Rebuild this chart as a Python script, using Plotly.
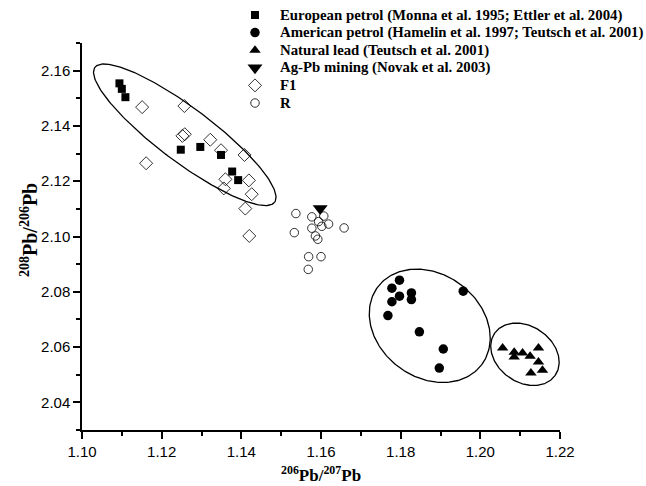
import numpy as np
import plotly.graph_objects as go

# ---- data ----
eu_x = [1.1094, 1.1100, 1.1109, 1.1248, 1.1297, 1.1349, 1.1377, 1.1392]
eu_y = [2.1554, 2.1534, 2.1504, 2.1314, 2.1324, 2.1295, 2.1235, 2.1204]

am_x = [1.1797, 1.1778, 1.1827, 1.1797, 1.1827, 1.1778, 1.1957, 1.1768, 1.1847, 1.1907, 1.1897]
am_y = [2.0842, 2.0813, 2.0796, 2.0784, 2.0772, 2.0764, 2.0802, 2.0714, 2.0655, 2.0593, 2.0524]

nat_x = [1.2056, 1.2085, 1.2106, 1.2146, 1.2085, 1.2125, 1.2146, 1.2127, 1.2156]
nat_y = [2.0597, 2.0581, 2.0579, 2.0597, 2.0564, 2.0567, 2.0546, 2.0506, 2.0516]

ag_x = [1.1598]
ag_y = [2.1101]

f1_x = [1.1151, 1.1257, 1.1161, 1.1252, 1.1258, 1.1322, 1.1349, 1.1408, 1.1360, 1.1356, 1.1419, 1.1426, 1.1410, 1.1420]
f1_y = [2.1468, 2.1472, 2.1265, 2.1364, 2.1370, 2.1350, 2.1312, 2.1295, 2.1207, 2.1174, 2.1203, 2.1153, 2.1101, 2.1002]

r_x = [1.1537, 1.1577, 1.1607, 1.1594, 1.1619, 1.1602, 1.1577, 1.1658, 1.1533, 1.1586, 1.1592, 1.1569, 1.1600, 1.1568]
r_y = [2.1083, 2.1071, 2.1074, 2.1054, 2.1045, 2.1037, 2.1030, 2.1031, 2.1014, 2.1002, 2.0990, 2.0927, 2.0927, 2.0881]

labels = [
    "European petrol (Monna et al. 1995; Ettler et al. 2004)",
    "American petrol (Hamelin et al. 1997; Teutsch et al. 2001)",
    "Natural lead (Teutsch et al. 2001)",
    "Ag-Pb mining (Novak et al. 2003)",
    "F1",
    "R",
]

x_ticks = [1.10, 1.12, 1.14, 1.16, 1.18, 1.20, 1.22]
y_ticks = [2.04, 2.06, 2.08, 2.10, 2.12, 2.14, 2.16]

x_title = "<b><sup>206</sup>Pb/<sup>207</sup>Pb</b>"
y_title = "<b><sup>208</sup>Pb/<sup>206</sup>Pb</b>"

# ---- layout geometry (pixels) ----
W, H = 646, 486
PL, PR, PT, PB = 82, 560, 43, 430        # plot-area edges
PW, PH = PR - PL, PB - PT
XR = [1.10, 1.22]
YR = [2.03, 2.17]
SX = PW / (XR[1] - XR[0])   # px per x unit
SY = PH / (YR[1] - YR[0])   # px per y unit

# ellipses: center (data), semi-axes in px, angle (deg, screen)
ellipses = [
    (1.1258, 2.1368, 112.3, 27.0, 36.9),
    (1.1873, 2.0677, 64.9, 51.6, 36.7),
    (1.2112, 2.0574, 36.9, 28.0, 35.0),
]

styles = [
    dict(symbol="square", size=8, color="black"),
    dict(symbol="circle", size=9.5, color="black"),
    dict(symbol="triangle-up", size=10, color="black"),
    dict(symbol="triangle-down", size=13, color="black"),
    dict(symbol="diamond-open", size=10, color="black", line=dict(width=0.8)),
    dict(symbol="circle-open", size=8.5, color="black", line=dict(width=0.8)),
]
series = [(eu_x, eu_y), (am_x, am_y), (nat_x, nat_y), (ag_x, ag_y), (f1_x, f1_y), (r_x, r_y)]

fig = go.Figure()
for (sx_, sy_), st, lab in zip(series, styles, labels):
    fig.add_trace(go.Scatter(x=sx_, y=sy_, mode="markers", name=lab, marker=st,
                             showlegend=False, cliponaxis=False))

t = np.linspace(0, 2 * np.pi, 240)
for cx, cy, a, b, ang in ellipses:
    th = np.deg2rad(ang)
    dx = a * np.cos(t) * np.cos(th) - b * np.sin(t) * np.sin(th)
    dy = a * np.cos(t) * np.sin(th) + b * np.sin(t) * np.cos(th)
    fig.add_trace(go.Scatter(x=cx + dx / SX, y=cy - dy / SY, mode="lines",
                             line=dict(color="black", width=1.3),
                             showlegend=False, hoverinfo="skip"))

# ---- manual legend: keys on a full-figure pixel axis (x2/y2) ----
serif = "Liberation Serif, Times New Roman"
leg_key_px = 255
leg_text_px = 278
leg_row0_px = 15
leg_step_px = 17.6
for i, (st, lab) in enumerate(zip(styles, labels)):
    py = leg_row0_px + i * leg_step_px
    fig.add_trace(go.Scatter(x=[leg_key_px], y=[py], xaxis="x2", yaxis="y2", mode="markers",
                             marker=st, showlegend=False, cliponaxis=False, hoverinfo="skip"))
    fig.add_annotation(x=leg_text_px / W, y=1 - py / H, xref="paper", yref="paper",
                       xanchor="left", yanchor="middle", showarrow=False,
                       text=f"<b>{lab}</b>",
                       font=dict(family=serif, size=14.8, color="black"))

# axis titles as annotations
fig.add_annotation(x=(PL + PR) / 2 / W, y=1 - 474 / H, xref="paper", yref="paper",
                   xanchor="center", yanchor="middle", showarrow=False,
                   text=x_title, font=dict(family=serif, size=17, color="black"))
fig.add_annotation(x=29 / W, y=1 - 230 / H, xref="paper", yref="paper",
                   xanchor="center", yanchor="middle", showarrow=False, textangle=-90,
                   text=y_title, font=dict(family=serif, size=20, color="black"))

axis_common = dict(
    showline=True, linecolor="black", linewidth=1.5, showgrid=False, zeroline=False,
    ticks="outside", ticklen=7, tickwidth=1.5, tickcolor="black",
    tickfont=dict(family="Liberation Sans, Arial", size=15, color="black"),
    minor=dict(ticks="outside", ticklen=4, tickwidth=1.5, tickcolor="black", dtick=0.01),
    mirror=False, automargin=False,
)

fig.update_layout(
    width=W, height=H,
    margin=dict(l=0, r=0, t=0, b=0, pad=0),
    plot_bgcolor="rgba(0,0,0,0)", paper_bgcolor="white",
    showlegend=False,
    xaxis=dict(range=XR, domain=[PL / W, PR / W], tickvals=x_ticks,
               ticktext=[f"{v:.2f}" for v in x_ticks], anchor="y", **axis_common),
    yaxis=dict(range=YR, domain=[1 - PB / H, 1 - PT / H], tickvals=y_ticks,
               ticktext=[f"{v:.2f}" for v in y_ticks], anchor="x", **axis_common),
    xaxis2=dict(domain=[0, 1], range=[0, W], visible=False, fixedrange=True, anchor="y2"),
    yaxis2=dict(domain=[0, 1], range=[H, 0], visible=False, fixedrange=True, anchor="x2"),
)

fig.write_html("out.html",
               config={"displayModeBar": False},
               post_script="document.body.style.margin='0';document.body.style.overflow='hidden';")
